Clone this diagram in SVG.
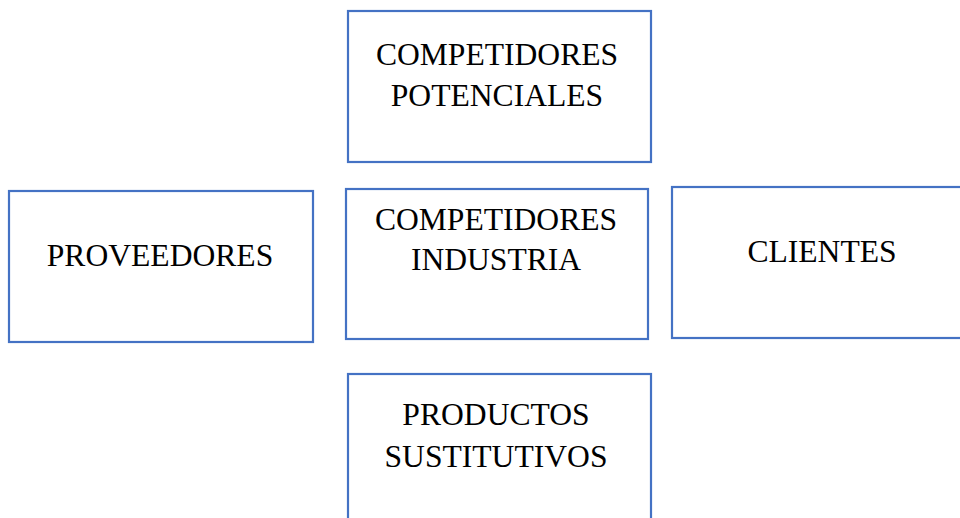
<svg xmlns="http://www.w3.org/2000/svg" width="960" height="518" viewBox="0 0 960 518">
  <style>
    .box { fill: #ffffff; stroke: #4472C4; stroke-width: 2.2; }
    .lbl { font-family: "Liberation Serif", "Times New Roman", serif; font-size: 31.6px; fill: #000000; text-anchor: middle; }
  </style>
  <rect x="0" y="0" width="960" height="518" fill="#ffffff"/>
  <g id="connectors"></g>
  <g id="competidores-potenciales">
    <rect class="box" x="348" y="11" width="303" height="151"/>
    <text class="lbl" x="497" y="65">COMPETIDORES</text>
    <text class="lbl" x="497" y="106">POTENCIALES</text>
  </g>
  <g id="proveedores">
    <rect class="box" x="9" y="191" width="304" height="151"/>
    <text class="lbl" x="160" y="266">PROVEEDORES</text>
  </g>
  <g id="competidores-industria">
    <rect class="box" x="346" y="189" width="302" height="150"/>
    <text class="lbl" x="496" y="230">COMPETIDORES</text>
    <text class="lbl" x="496" y="270">INDUSTRIA</text>
  </g>
  <g id="clientes">
    <rect class="box" x="672" y="187" width="300" height="151"/>
    <text class="lbl" x="822" y="262">CLIENTES</text>
  </g>
  <g id="productos-sustitutivos">
    <rect class="box" x="348" y="374" width="303" height="160"/>
    <text class="lbl" x="496" y="425">PRODUCTOS</text>
    <text class="lbl" x="496" y="467">SUSTITUTIVOS</text>
  </g>
</svg>
